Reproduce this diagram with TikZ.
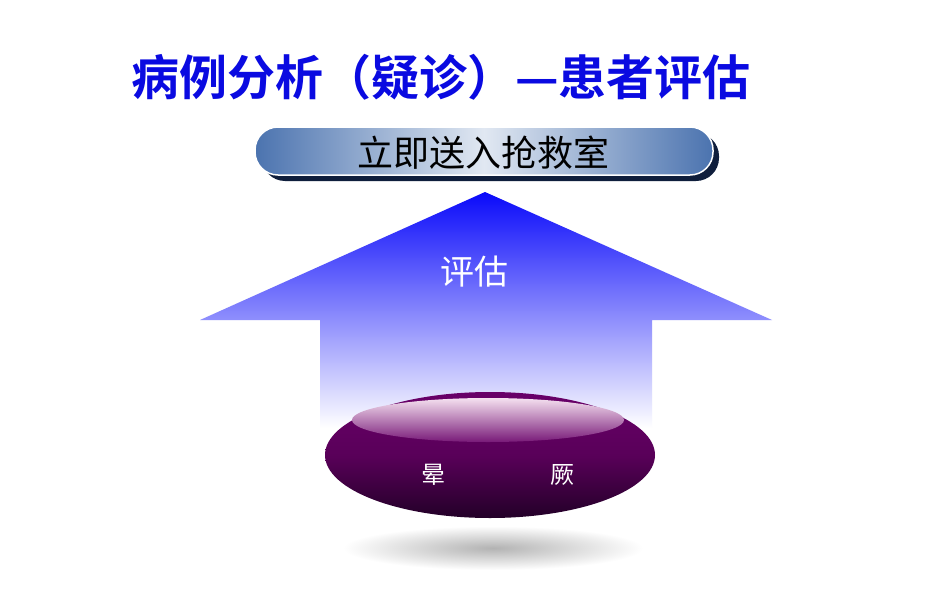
\documentclass[tikz,border=0pt]{standalone}
\usepackage{fontspec}
\newfontfamily\cjk{Noto Sans CJK SC}
\newfontfamily\cjkb{Noto Sans CJK SC Bold}
\usetikzlibrary{shapes.geometric}
\definecolor{titleblue}{RGB}{10,10,225}
\definecolor{arrowtop}{RGB}{10,10,250}
\definecolor{bannerdark}{RGB}{75,115,175}
\definecolor{bannerlight}{RGB}{225,232,242}
\definecolor{navy}{RGB}{15,30,60}
\definecolor{purpmid}{RGB}{105,0,105}
\definecolor{purpdark}{RGB}{35,0,40}
\definecolor{hlpink}{RGB}{245,225,240}
\tikzset{
  titletext/.style={font=\cjkb\fontsize{48}{52}\selectfont, text=titleblue},
  bannertext/.style={font=\cjk\fontsize{36}{40}\selectfont, text=black},
  whitetext/.style={font=\cjk\fontsize{34}{38}\selectfont, text=white},
  smallwhite/.style={font=\cjk\fontsize{24}{27}\selectfont, text=white},
}
\begin{document}
\begin{tikzpicture}[x=1pt,y=-1pt]
\useasboundingbox[fill=white] (0,0) rectangle (950,594);
% title
\node[titletext] (title) at (441,77) {病例分析（疑诊）—患者评估};
% banner shadow
\fill[navy, rounded corners=23pt] (262,133) rectangle (719,181);
% banner
\shade[left color=bannerdark, right color=bannerdark, middle color=bannerlight, rounded corners=23pt, draw=white, line width=1.5pt] (255,127) rectangle (713,175);
\node[bannertext] (banner) at (483,153) {立即送入抢救室};
% arrow
\shade[top color=arrowtop, bottom color=white]
  (485,192) -- (772,320) -- (652,320) -- (652,428) -- (320,428) -- (320,320) -- (200,320) -- cycle;
\node[whitetext] (eval) at (474,272) {评估};
% floor shadow
\shade[inner color=gray!60, outer color=white] (493,548) ellipse [x radius=150, y radius=22];
% main ellipse
\shade[top color=purpmid, bottom color=purpdark, middle color=purpmid!85!black] (490,455) ellipse [x radius=165, y radius=63];
% highlight
\shade[top color=hlpink, bottom color=purpmid!90!white] (488,420) ellipse [x radius=136, y radius=22];
\node[smallwhite] (w1) at (433,475) {晕};
\node[smallwhite] (w2) at (562,475) {厥};
\end{tikzpicture}
\end{document}
